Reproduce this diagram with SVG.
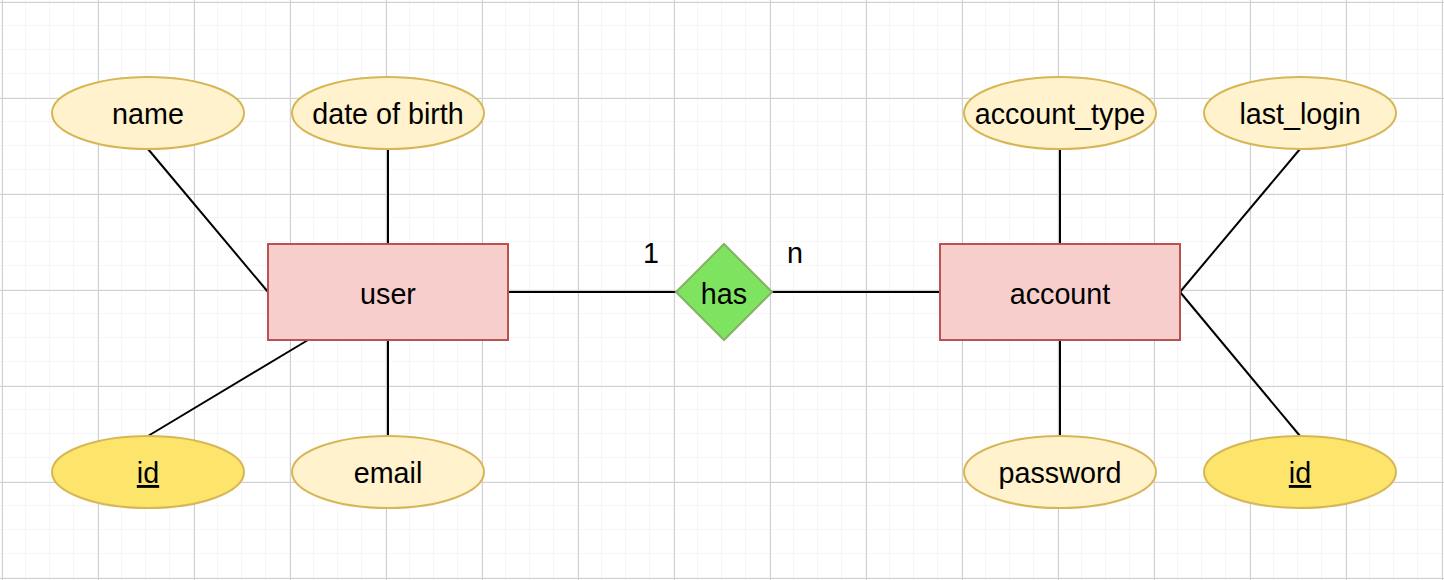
<svg xmlns="http://www.w3.org/2000/svg" width="1444" height="580" viewBox="0 0 1444 580">
<defs>
<pattern id="minor" x="2" y="2" width="24" height="24" patternUnits="userSpaceOnUse">
<path d="M24 0V24M0 24H24" fill="none" stroke="#eeeeee" stroke-width="1"/>
</pattern>
<pattern id="major" x="2" y="2" width="96" height="96" patternUnits="userSpaceOnUse">
<path d="M0.5 0V96M0 0.5H96" fill="none" stroke="#d0d0d0" stroke-width="1"/>
</pattern>
</defs>
<style>
.attr{fill:#fff2cc;stroke:#d6b656;stroke-width:2}
.key{fill:#fce56a;stroke:#d6b656;stroke-width:2}
.ent{fill:#f8cecc;stroke:#b85450;stroke-width:2}
.rel{fill:#7ee35f;stroke:#82b366;stroke-width:2}
.edge{stroke:#000;stroke-width:2;fill:none}
text{font-family:"Liberation Sans",Arial,sans-serif;font-size:28.7px;fill:#000;text-anchor:middle}
.u{text-decoration:underline}
</style>
<rect width="1444" height="580" fill="#fff"/>
<rect width="1444" height="580" fill="url(#minor)"/>
<rect width="1444" height="580" fill="url(#major)"/>
<g id="connectors">
<line class="edge" x1="148" y1="149" x2="268" y2="292"/>
<line class="edge" x1="388" y1="149" x2="388" y2="244"/>
<line class="edge" x1="148" y1="436" x2="308" y2="340"/>
<line class="edge" x1="388" y1="436" x2="388" y2="340"/>
<line class="edge" x1="508" y1="292" x2="676" y2="292"/>
<line class="edge" x1="772" y1="292" x2="940" y2="292"/>
<line class="edge" x1="1060" y1="149" x2="1060" y2="244"/>
<line class="edge" x1="1300" y1="149" x2="1180" y2="292"/>
<line class="edge" x1="1060" y1="340" x2="1060" y2="436"/>
<line class="edge" x1="1300" y1="436" x2="1180" y2="292"/>
<text x="651" y="263">1</text>
<text x="795" y="263">n</text>
</g>
<g id="name"><ellipse class="attr" cx="148" cy="113" rx="96" ry="36"/><text x="148" y="124">name</text></g>
<g id="dob"><ellipse class="attr" cx="388" cy="113" rx="96" ry="36"/><text x="388" y="124">date of birth</text></g>
<g id="user"><rect class="ent" x="268" y="244" width="240" height="96"/><text x="388" y="304">user</text></g>
<g id="user_id"><ellipse class="key" cx="148" cy="472" rx="96" ry="36"/><text class="u" x="148" y="483">id</text></g>
<g id="email"><ellipse class="attr" cx="388" cy="472" rx="96" ry="36"/><text x="388" y="483">email</text></g>
<g id="has"><polygon class="rel" points="724,244 772,292 724,340 676,292"/><text x="724" y="304">has</text></g>
<g id="account"><rect class="ent" x="940" y="244" width="240" height="96"/><text x="1060" y="304">account</text></g>
<g id="account_type"><ellipse class="attr" cx="1060" cy="113" rx="96" ry="36"/><text x="1060" y="124">account_type</text></g>
<g id="last_login"><ellipse class="attr" cx="1300" cy="113" rx="96" ry="36"/><text x="1300" y="124">last_login</text></g>
<g id="password"><ellipse class="attr" cx="1060" cy="472" rx="96" ry="36"/><text x="1060" y="483">password</text></g>
<g id="account_id"><ellipse class="key" cx="1300" cy="472" rx="96" ry="36"/><text class="u" x="1300" y="483">id</text></g>
</svg>
